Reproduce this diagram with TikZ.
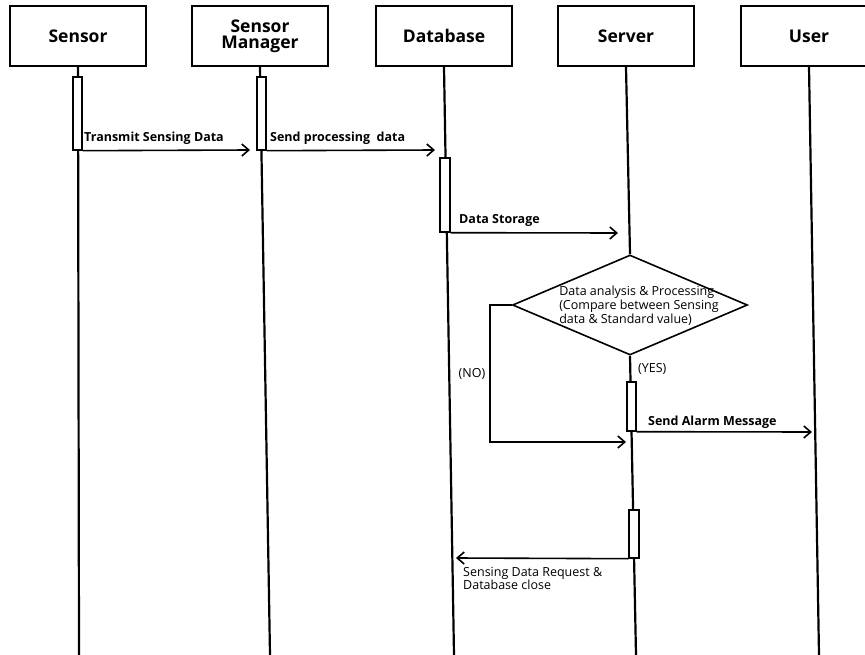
\documentclass[tikz,border=0pt]{standalone}
\usepackage{fontspec}
\setmainfont{Open Sans}
\usetikzlibrary{shapes.geometric,arrows.meta}
\begin{document}
\begin{tikzpicture}[x=1pt,y=-1pt,
 head/.style={draw, line width=1.8pt, minimum width=136pt, minimum height=60pt, inner sep=0pt, font=\fontsize{17.5}{19}\selectfont\bfseries, align=center},
 life/.style={line width=2.2pt},
 bar/.style={draw, line width=1.4pt, fill=white, minimum width=9pt, inner sep=0pt},
 msg/.style={line width=1.6pt, -{Straight Barb[length=7pt,width=12pt,line width=1.6pt]}},
 lab/.style={font=\fontsize{12.5}{14}\selectfont\bfseries, inner sep=0pt, anchor=base west},
 small/.style={font=\fontsize{12.5}{14}\selectfont, inner sep=0pt, align=left}
]
\useasboundingbox (0,0) rectangle (865,655);
% headers
\node[head] (sensor) at (78,36) {Sensor};
\node[head] (mgr) at (260,36) {Sensor\\[-3pt]Manager};
\node[head] (db) at (444,36) {Database};
\node[head] (server) at (626,36) {Server};
\node[head] (user) at (809,36) {User};
% lifeline ends
\coordinate (sensorEnd) at (79,655);
\coordinate (mgrEnd) at (270,655);
\coordinate (dbEnd) at (454,655);
\coordinate (serverEnd) at (636,655);
\coordinate (userEnd) at (819,655);
% diamond
\node[diamond, draw, line width=1.6pt, fill=white, minimum width=235pt, minimum height=100pt, inner sep=0pt] (dia) at (630,305) {};
\node[small] (diatext) at (639,306) {Data analysis \& Processing\\(Compare between Sensing\\data \& Standard value)};
% lifelines
\draw[life] (sensor.south) -- (sensorEnd);
\draw[life] (mgr.south) -- (mgrEnd);
\draw[life] (db.south) -- (dbEnd);
\draw[life] (server.south) -- (dia.north);
\draw[life] (dia.south) -- (serverEnd);
\draw[life] (user.south) -- (userEnd);
% activation bars
\node[bar, minimum height=73pt] (sbar) at (77.5,113.5) {};
\node[bar, minimum height=73pt] (mbar) at (261.5,113.5) {};
\node[bar, minimum height=74pt, minimum width=10pt] (dbar) at (445,195) {};
\node[bar, minimum height=49pt] (vbar1) at (631.5,406.5) {};
\node[bar, minimum height=48pt, minimum width=10pt] (vbar2) at (634,534) {};
% message ends
\coordinate (m1) at (250,150);
\coordinate (m2) at (435,150);
\coordinate (m3) at (618,233);
\coordinate (noA) at (490,305);
\coordinate (noB) at (490,442);
\coordinate (noEnd) at (626,442);
\coordinate (m4) at (812,432);
\coordinate (m5) at (456,558);
% messages
\draw[msg] (sbar.south east) -- (m1);
\node[lab] (l1) at (84,142) {Transmit Sensing Data};
\draw[msg] (mbar.south east) -- (m2);
\node[lab] (l2) at (270,142) {Send processing\ \ data};
\draw[msg] (dbar.south east) -- (m3);
\node[lab] (l3) at (459,224) {Data Storage};
\draw[msg] (dia.west) -- (noA) -- (noB) -- (noEnd);
\node[small] (no) at (472,374) {(NO)};
\node[small, anchor=west] (yes) at (638,369) {(YES)};
\draw[msg] (vbar1.south east) -- (m4);
\node[lab] (l4) at (648,425) {Send Alarm Message};
\draw[msg] (vbar2.south west) -- (m5);
\node[small, anchor=north west, font=\fontsize{12.5}{13}\selectfont] (l5) at (463,567) {Sensing Data Request \&\\Database close};
\end{tikzpicture}
\end{document}
